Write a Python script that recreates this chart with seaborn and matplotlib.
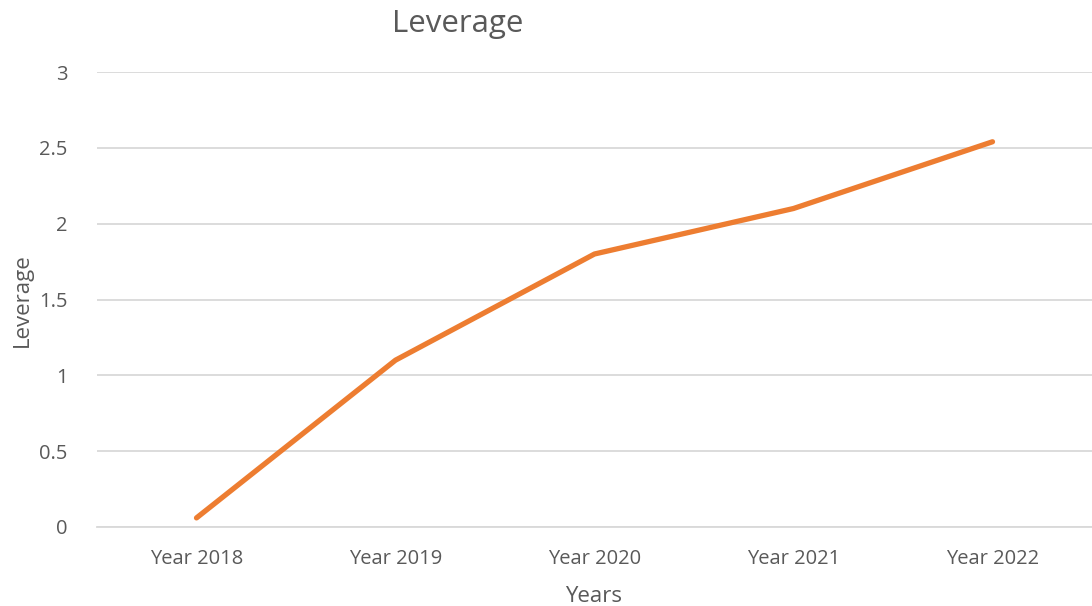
import matplotlib
matplotlib.use("Agg")
import matplotlib.pyplot as plt
import seaborn as sns
import pandas as pd

years = ["Year 2018", "Year 2019", "Year 2020", "Year 2021", "Year 2022"]
leverage = [0.06, 1.1, 1.8, 2.1, 2.54]
y_ticks = [0, 0.5, 1, 1.5, 2, 2.5, 3]
y_tick_labels = ["0", "0.5", "1", "1.5", "2", "2.5", "3"]

sns.set_style("white")
plt.rcParams['font.family'] = ['Open Sans', 'DejaVu Sans']

df = pd.DataFrame({"Years": years, "Leverage": leverage})

fig = plt.figure(figsize=(10.92, 6.06), dpi=100)
ax = fig.add_axes([97/1092, 79/606, 995/1092, 455/606])

sns.lineplot(data=df, x="Years", y="Leverage", ax=ax, color="#ED7D31",
             linewidth=3.8, sort=False, solid_capstyle="round")

ax.set_xlim(-0.5, len(years) - 0.5)
ax.set_ylim(0, 3)
ax.set_yticks(y_ticks)
ax.set_yticklabels(y_tick_labels)
ax.grid(axis="y", color="#D9D9D9", linewidth=1.3)
ax.set_axisbelow(True)
for s in ["top", "right", "left"]:
    ax.spines[s].set_visible(False)
ax.spines["bottom"].set_color("#D9D9D9")
ax.spines["bottom"].set_linewidth(1.3)
ax.tick_params(axis="both", length=0, colors="#595959", labelsize=14.5)
ax.tick_params(axis="y", pad=21)
ax.tick_params(axis="x", pad=16)

ax.set_xlabel("Years", color="#595959", fontsize=16)
ax.set_ylabel("Leverage", color="#595959", fontsize=16)
ax.xaxis.set_label_coords((594 - 97) / 995, (527 - 597) / 455)
ax.yaxis.set_label_coords((22 - 97) / 995, (527 - 300) / 455)
ax.xaxis.label.set_va("center")
ax.yaxis.label.set_va("center")
fig.text(458/1092, 1 - 24/606, "Leverage", ha="center", va="center",
         color="#595959", fontsize=22.5)

fig.savefig("out.png", dpi=100)
